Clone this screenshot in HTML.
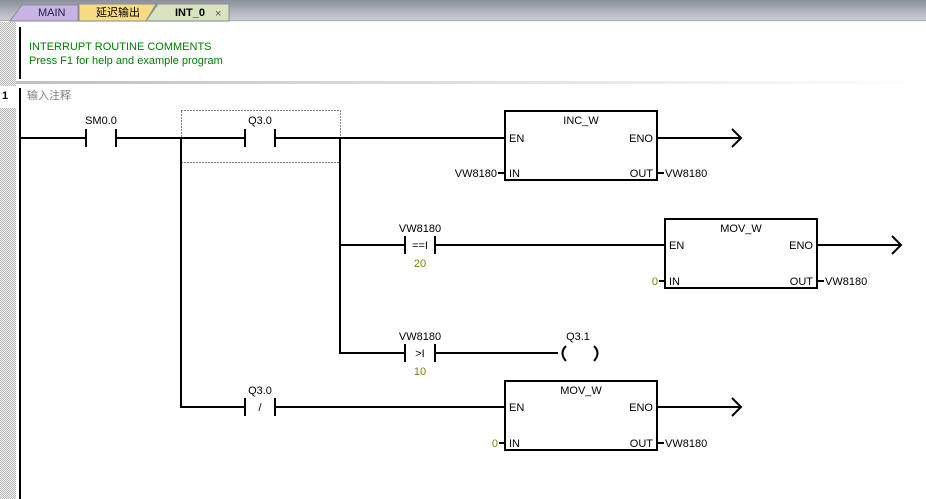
<!DOCTYPE html>
<html><head><meta charset="utf-8"><style>
html,body{margin:0;padding:0;width:926px;height:499px;overflow:hidden;background:#fff}
svg text{font-family:"Liberation Sans","Noto Sans CJK SC",sans-serif;font-size:11px}
</style></head><body>
<svg width="926" height="499" xmlns="http://www.w3.org/2000/svg">
<defs>
<linearGradient id="tb" x1="0" y1="0" x2="0" y2="1"><stop offset="0" stop-color="#8a909a"/><stop offset="1" stop-color="#ccd0d8"/></linearGradient>
<pattern id="dots" width="2" height="2" patternUnits="userSpaceOnUse"><rect width="2" height="2" fill="#f0f0f0"/><rect width="1" height="1" fill="#b8b8b8"/><rect x="1" y="1" width="1" height="1" fill="#b8b8b8"/></pattern>
<linearGradient id="sep" x1="0" y1="0" x2="1" y2="0"><stop offset="0" stop-color="#c0c0c0"/><stop offset="1" stop-color="#ffffff"/></linearGradient>
</defs>
<rect x="0" y="0" width="926" height="21" fill="url(#tb)"/>
<rect x="0" y="20" width="926" height="1" fill="#a8acb0"/>
<rect x="0" y="21" width="926" height="1" fill="#f4f8e0"/>
<path d="M10 21 L22 5 L78 5 L78 21 Z" fill="#c8b4e4" stroke="#8a8a9a"/>
<text x="38" y="16" fill="#202040">MAIN</text>
<path d="M79 21 L79 4 L156 4 L146 21 Z" fill="#f8dc84" stroke="#8a8a9a"/>
<text x="96" y="16" fill="#000">延迟输出</text>
<path d="M146 21 L158 4 L229 4 L229 21 Z" fill="#d8e4c0" stroke="#8a8a9a"/>
<text x="175" y="16" fill="#000" font-weight="bold">INT_0</text>
<text x="215" y="17" fill="#555" font-size="14">×</text>
<rect x="0" y="22" width="16" height="477" fill="url(#dots)"/>
<rect x="0" y="86" width="16" height="22" fill="#fff"/>
<text x="2" y="99" font-weight="bold" fill="#000">1</text>
<rect x="19" y="27" width="2" height="52" fill="#000"/>
<text x="29" y="50" fill="#008000">INTERRUPT ROUTINE COMMENTS</text>
<text x="29" y="64" fill="#008000">Press F1 for help and example program</text>
<rect x="16" y="81" width="910" height="3" fill="url(#sep)"/>
<text x="27" y="99" fill="#808080">输入注释</text>
<rect x="19" y="88" width="2" height="411" fill="#000"/>
<g stroke="#000" stroke-width="2" fill="none">
<path d="M20 138 H86 M116 138 H245 M275 138 H505"/>
<path d="M86 129 V147 M116 129 V147 M245 129 V147 M275 129 V147"/>
<rect x="505" y="111" width="152" height="69"/>
<path d="M657 138 H740 M732 129 L741 138 L732 147"/>
<path d="M498 173 H505 M657 173 H664"/>
<path d="M181 137 V408 M340 137 V354"/>
<path d="M340 245 H405 M435 245 H665 M405 236 V254 M435 236 V254"/>
<rect x="665" y="219" width="152" height="69"/>
<path d="M817 245 H900 M892 236 L901 245 L892 254"/>
<path d="M659 281 H665 M817 281 H824"/>
<path d="M340 353 H405 M435 353 H558 M405 344 V362 M435 344 V362"/>
<path d="M566 346 Q559 353 566 361 M594 346 Q601 353 594 361"/>
<path d="M181 407 H245 M275 407 H505 M245 398 V416 M275 398 V416"/>
<rect x="505" y="381" width="152" height="69"/>
<path d="M657 407 H740 M732 398 L741 407 L732 416"/>
<path d="M499 443 H505 M657 443 H664"/>
</g>
<rect x="181.5" y="110.5" width="159" height="52" fill="none" stroke="#000" stroke-width="1" stroke-dasharray="1,2"/>
<g fill="#000">
<text x="101" y="124" text-anchor="middle">SM0.0</text>
<text x="260" y="124" text-anchor="middle">Q3.0</text>
<text x="581" y="124" text-anchor="middle">INC_W</text>
<text x="509" y="142">EN</text><text x="509" y="177">IN</text>
<text x="653" y="142" text-anchor="end">ENO</text><text x="653" y="177" text-anchor="end">OUT</text>
<text x="497" y="177" text-anchor="end">VW8180</text><text x="665" y="177">VW8180</text>
<text x="420" y="232" text-anchor="middle">VW8180</text>
<text x="420" y="249" text-anchor="middle" font-size="10">==I</text>
<text x="741" y="232" text-anchor="middle">MOV_W</text>
<text x="669" y="249">EN</text><text x="669" y="285">IN</text>
<text x="813" y="249" text-anchor="end">ENO</text><text x="813" y="285" text-anchor="end">OUT</text>
<text x="825" y="285">VW8180</text>
<text x="420" y="340" text-anchor="middle">VW8180</text>
<text x="420" y="357" text-anchor="middle" font-size="10">&gt;I</text>
<text x="578" y="340" text-anchor="middle">Q3.1</text>
<text x="260" y="394" text-anchor="middle">Q3.0</text>
<text x="260" y="411" text-anchor="middle">/</text>
<text x="581" y="394" text-anchor="middle">MOV_W</text>
<text x="509" y="411">EN</text><text x="509" y="447">IN</text>
<text x="653" y="411" text-anchor="end">ENO</text><text x="653" y="447" text-anchor="end">OUT</text>
<text x="665" y="447">VW8180</text>
</g>
<g fill="#808000">
<text x="420" y="267" text-anchor="middle">20</text>
<text x="420" y="375" text-anchor="middle">10</text>
<text x="658" y="285" text-anchor="end">0</text>
<text x="498" y="447" text-anchor="end">0</text>
</g>
</svg>
</body></html>
